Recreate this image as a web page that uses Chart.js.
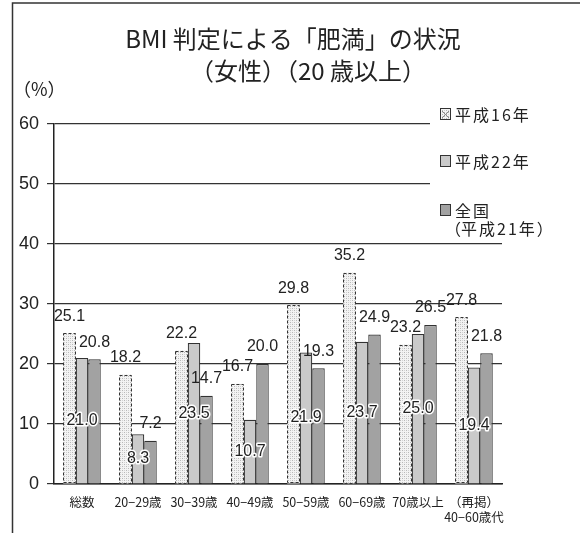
<!DOCTYPE html>
<html>
<head>
<meta charset="utf-8">
<script src="https://cdn.jsdelivr.net/npm/chart.js@4.4.1/dist/chart.umd.min.js"></script>
<style>
  html, body { margin: 0; padding: 0; background: #fff; }
  #wrap { width: 580px; height: 533px; position: relative; }
</style>
</head>
<body>
<div id="wrap"><canvas id="c" width="580" height="533"></canvas></div>
<script>
// Age groups along the x axis
const categories = ['総数', '20−29歳', '30−39歳', '40−49歳', '50−59歳', '60−69歳', '70歳以上', ['（再掲）', '40−60歳代']];
// Series names
const seriesNames = ['平成16年', '平成22年', '全国', '（平成21年）'];
// Obesity rate (%) per age group
const h16 = [25.1, 18.2, 22.2, 16.7, 29.8, 35.2, 23.2, 27.8];
const h22 = [21.0, 8.3, 23.5, 10.7, 21.9, 23.7, 25.0, 19.4];
const national = [20.8, 7.2, 14.7, 20.0, 19.3, 24.9, 26.5, 21.8];
// Y axis range
const yMin = 0, yMax = 60, yStep = 10;
const titleLines = ['BMI 判定による「肥満」の状況', '（女性）（20 歳以上）'];
const unitLabel = '（%）';

const INK = '#222';
const NUM_FONT = '"Liberation Sans", Arial, sans-serif';
const JP_FONT = '"Noto Sans CJK JP", "Noto Sans", sans-serif';

// dotted fill for the 平成16年 bars
function dotPattern() {
  const t = document.createElement('canvas');
  t.width = 4; t.height = 4;
  const g = t.getContext('2d');
  g.fillStyle = '#f3f3f3';
  g.fillRect(0, 0, 4, 4);
  g.fillStyle = '#b8b8b8';
  g.fillRect(0, 0, 1, 1);
  g.fillRect(2, 2, 1, 1);
  g.fillStyle = '#d4d4d4';
  g.fillRect(2, 0, 1, 1);
  g.fillRect(0, 2, 1, 1);
  return g.createPattern(t, 'repeat');
}
const PAT = dotPattern();
const FILL22 = '#cacaca';
const FILL21 = '#a2a2a2';

// Draws text glyph by glyph, setting full-width parentheses tight
// (half an em each), like proportional Japanese typesetting.
// A closing parenthesis directly followed by an opening one keeps its full width.
function drawTight(ctx, text, x, y, size, align) {
  const chars = [...text];
  const glyphs = chars.map((ch, i) => {
    const w = ctx.measureText(ch).width;
    if (ch === '（' || ch === '「') return { ch, adv: size * 0.5, shift: -size * 0.5 };
    if (ch === '）' || ch === '」') {
      const next = chars[i + 1];
      return { ch, adv: (next === '（' || next === '「') ? size : size * 0.5, shift: 0 };
    }
    return { ch, adv: w, shift: 0 };
  });
  const total = glyphs.reduce((s, g) => s + g.adv, 0);
  let cx = align === 'center' ? x - total / 2 : (align === 'right' ? x - total : x);
  const prevAlign = ctx.textAlign;
  ctx.textAlign = 'left';
  glyphs.forEach(g => { ctx.fillText(g.ch, cx + g.shift, y); cx += g.adv; });
  ctx.textAlign = prevAlign;
}

// dashed outline for the dotted bars, plus value labels
const barDecor = {
  id: 'barDecor',
  afterDatasetsDraw(chart) {
    const ctx = chart.ctx;
    const m0 = chart.getDatasetMeta(0);
    ctx.save();
    ctx.strokeStyle = '#333';
    ctx.lineWidth = 1;
    ctx.setLineDash([3, 2]);
    m0.data.forEach(el => {
      const p = el.getProps(['x', 'y', 'base', 'width'], true);
      ctx.strokeRect(Math.round(p.x - p.width / 2) + 0.5, Math.round(p.y) + 0.5,
        Math.round(p.width) - 1, Math.round(p.base - p.y) - 1);
    });
    ctx.setLineDash([]);
    ctx.font = '16px ' + NUM_FONT;
    ctx.textAlign = 'center';
    ctx.textBaseline = 'middle';
    chart.data.datasets.forEach((ds, di) => {
      const meta = chart.getDatasetMeta(di);
      meta.data.forEach((el, i) => {
        const p = el.getProps(['x', 'y', 'base'], true);
        const txt = ds.data[i].toFixed(1);
        if (di === 1) {
          const y = (p.y + p.base) / 2;
          ctx.lineWidth = 3;
          ctx.strokeStyle = '#fff';
          ctx.lineJoin = 'round';
          ctx.strokeText(txt, p.x, y);
          ctx.fillStyle = INK;
          ctx.fillText(txt, p.x, y);
        } else {
          ctx.fillStyle = INK;
          ctx.fillText(txt, p.x, p.y - 17);
        }
      });
    });
    ctx.restore();
  }
};

// title, unit, legend and outer frame
const decor = {
  id: 'decor',
  afterDraw(chart) {
    const ctx = chart.ctx;
    ctx.save();
    // legend backdrop hides the grid behind it
    ctx.fillStyle = '#fff';
    ctx.fillRect(430, 96, 150, 140);

    ctx.fillStyle = INK;
    ctx.textBaseline = 'middle';
    ctx.textAlign = 'center';
    ctx.font = '24px ' + JP_FONT;
    ctx.fillText(titleLines[0], 293, 39);
    drawTight(ctx, titleLines[1], 308, 71, 24, 'center');
    ctx.font = '18px ' + JP_FONT;
    drawTight(ctx, unitLabel, 22, 89, 18, 'left');

    // legend
    const items = [
      { fill: PAT, dash: true, y: 114, text: seriesNames[0] },
      { fill: FILL22, dash: false, y: 161, text: seriesNames[1] },
      { fill: FILL21, dash: false, y: 210, text: seriesNames[2] }
    ];
    ctx.font = '16px ' + JP_FONT;
    ctx.textAlign = 'left';
    if ('letterSpacing' in ctx) ctx.letterSpacing = '2px';
    items.forEach(it => {
      ctx.fillStyle = it.fill;
      ctx.fillRect(440, it.y - 5, 11, 11);
      ctx.strokeStyle = '#333';
      ctx.lineWidth = 1;
      ctx.strokeRect(440.5, it.y - 5.5, 10, 11);
      if (it.dash) {
        ctx.beginPath();
        ctx.moveTo(442, it.y - 3); ctx.lineTo(449, it.y + 4);
        ctx.moveTo(449, it.y - 3); ctx.lineTo(442, it.y + 4);
        ctx.strokeStyle = '#888';
        ctx.stroke();
      }
      ctx.fillStyle = INK;
      ctx.fillText(it.text, 455, it.y + 1);
    });
    drawTight(ctx, seriesNames[3], 453, 229, 16, 'left');
    if ('letterSpacing' in ctx) ctx.letterSpacing = '0px';

    // outer frame (left and top edges)
    ctx.strokeStyle = '#333';
    ctx.lineWidth = 1.5;
    ctx.beginPath();
    ctx.moveTo(12.5, 533);
    ctx.lineTo(12.5, 3);
    ctx.lineTo(580, 3);
    ctx.stroke();
    ctx.restore();
  }
};

new Chart(document.getElementById('c'), {
  type: 'bar',
  data: {
    labels: categories,
    datasets: [
      { label: seriesNames[0], data: h16, backgroundColor: PAT, borderWidth: 0 },
      { label: seriesNames[1], data: h22, backgroundColor: FILL22, borderColor: '#333', borderWidth: 1.2 },
      { label: seriesNames[2], data: national, backgroundColor: FILL21, borderColor: '#333', borderWidth: 1.2 }
    ]
  },
  options: {
    responsive: false,
    animation: false,
    devicePixelRatio: 1,
    layout: { padding: { left: 0, top: 124, right: 78, bottom: 9 } },
    datasets: { bar: { categoryPercentage: 0.67, barPercentage: 1.0 } },
    plugins: { legend: { display: false }, title: { display: false }, tooltip: { enabled: false } },
    scales: {
      x: {
        grid: { display: false, drawTicks: false },
        border: { display: true, color: '#222', width: 1.5 },
        ticks: { color: INK, font: { family: JP_FONT, size: 12.5 }, padding: 11, maxRotation: 0, autoSkip: false },
        afterFit(s) { s.height = 40; }
      },
      y: {
        min: yMin, max: yMax,
        ticks: { stepSize: yStep, color: INK, font: { family: NUM_FONT, size: 18 }, padding: 8 },
        grid: { color: '#333', lineWidth: 1.2, tickLength: 7 },
        border: { display: true, color: '#222', width: 1.5 },
        afterFit(s) { s.width = 54; }
      }
    }
  },
  plugins: [barDecor, decor]
});
</script>
</body>
</html>
